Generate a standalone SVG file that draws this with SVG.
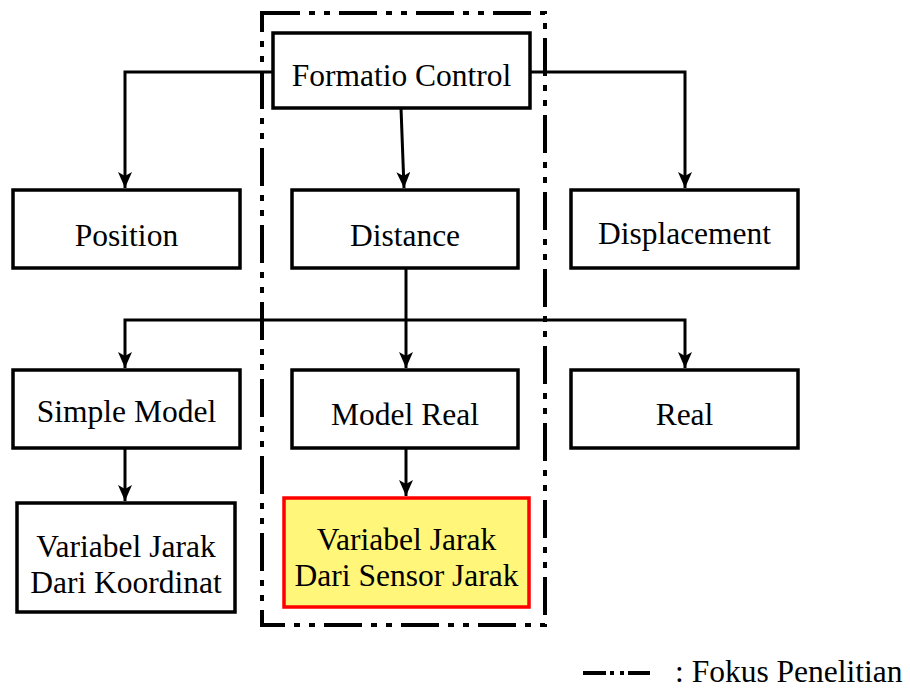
<svg xmlns="http://www.w3.org/2000/svg" width="910" height="689" viewBox="0 0 910 689">
<defs>
<style>
.box{fill:#fff;stroke:#000;stroke-width:3.5}
.focus{fill:#FFF67A;stroke:#FF0000;stroke-width:3.5}
text{font-family:'Liberation Serif',serif;font-size:31.5px;fill:#000;text-anchor:middle}
.con{fill:none;stroke:#000;stroke-width:3}
.dd{fill:none;stroke:#000;stroke-width:4;stroke-dasharray:38 9 6 9 6 9}
</style>
<marker id="ah" viewBox="-8 -7 16 14" refX="8" refY="0" markerWidth="16" markerHeight="14" markerUnits="userSpaceOnUse" orient="auto">
<path d="M-8,-7 L8,0 L-8,7 L-4,0 z" fill="#000"/>
</marker>
</defs>
<rect fill="#fff" x="0" y="0" width="910" height="689"/>
<g id="focus-frame">
<rect class="dd" x="262" y="13" width="283" height="612"/>
</g>
<g id="connectors">
<path class="con" d="M273,72 H125 V188" marker-end="url(#ah)"/>
<path class="con" d="M530,72 H685 V188" marker-end="url(#ah)"/>
<path class="con" d="M401,108 L404,188" marker-end="url(#ah)"/>
<path class="con" d="M406,268 V368" marker-end="url(#ah)"/>
<path class="con" d="M406,320 H125 V368" marker-end="url(#ah)"/>
<path class="con" d="M406,320 H685 V368" marker-end="url(#ah)"/>
<path class="con" d="M125,448 V501" marker-end="url(#ah)"/>
<path class="con" d="M406,448 V496" marker-end="url(#ah)"/>
</g>
<g id="formatio-control">
<rect class="box" x="273" y="33" width="257" height="75"/>
<text x="401.5" y="86">Formatio Control</text>
</g>
<g id="position">
<rect class="box" x="13" y="190" width="227" height="78"/>
<text x="126.5" y="246">Position</text>
</g>
<g id="distance">
<rect class="box" x="292" y="190" width="226" height="78"/>
<text x="405" y="246">Distance</text>
</g>
<g id="displacement">
<rect class="box" x="571" y="190" width="227" height="78"/>
<text x="684.5" y="244">Displacement</text>
</g>
<g id="simple-model">
<rect class="box" x="13" y="370" width="227" height="78"/>
<text x="126.5" y="422">Simple Model</text>
</g>
<g id="model-real">
<rect class="box" x="292" y="370" width="226" height="78"/>
<text x="405" y="425">Model Real</text>
</g>
<g id="real">
<rect class="box" x="571" y="370" width="227" height="78"/>
<text x="684.5" y="425">Real</text>
</g>
<g id="variabel-koordinat">
<rect class="box" x="17" y="503" width="218" height="109"/>
<text x="126" y="557">Variabel Jarak<tspan x="126" dy="36">Dari Koordinat</tspan></text>
</g>
<g id="variabel-sensor">
<rect class="focus" x="284" y="498" width="245" height="109"/>
<text x="406.5" y="550">Variabel Jarak<tspan x="406.5" dy="36">Dari Sensor Jarak</tspan></text>
</g>
<g id="legend">
<path d="M583,673 H606 M610,673 H614 M620,673 H624 M628,673 H650" stroke="#000" stroke-width="4" fill="none"/>
<text x="675" y="682" style="text-anchor:start">: Fokus Penelitian</text>
</g>
</svg>
